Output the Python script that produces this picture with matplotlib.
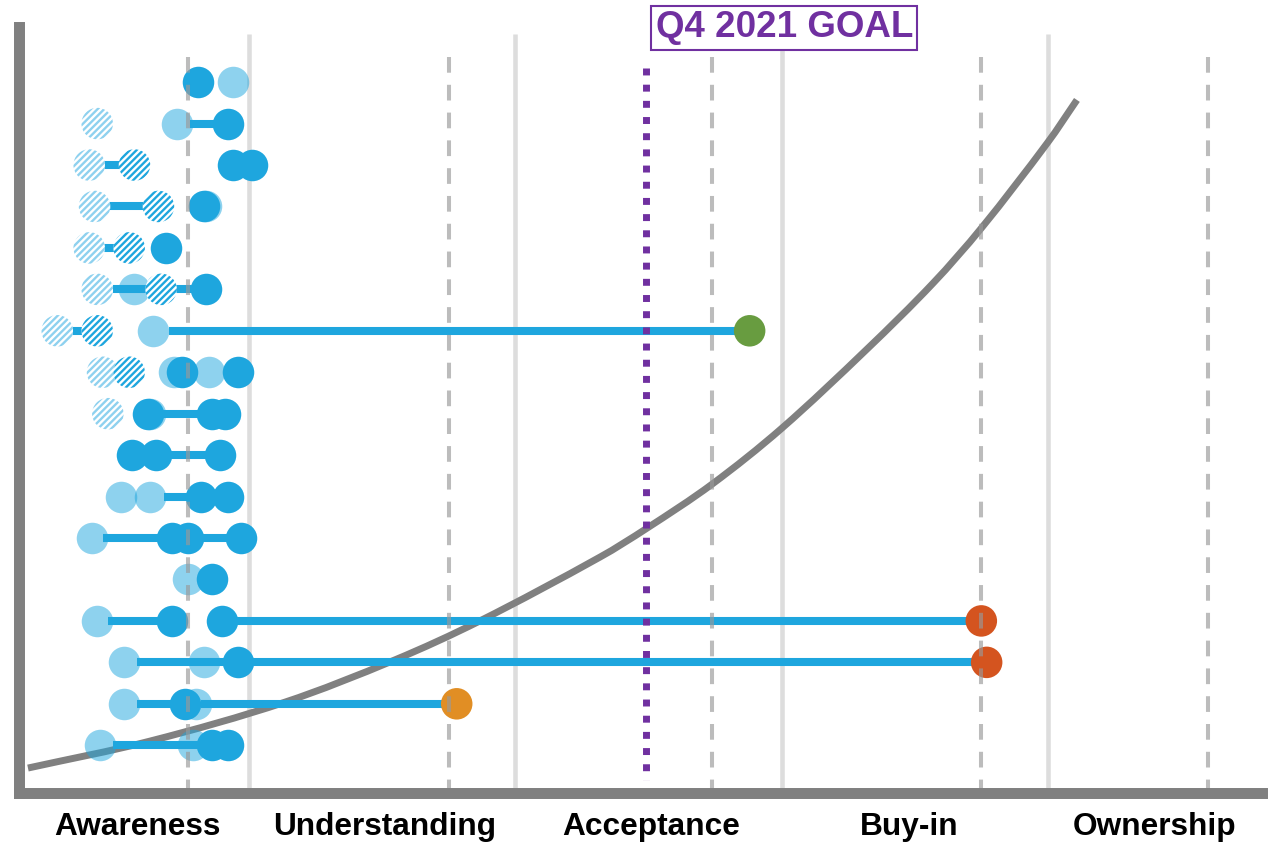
import matplotlib.pyplot as plt
from matplotlib.path import Path
from matplotlib.patches import PathPatch

plt.rcParams['font.family'] = ['Liberation Sans', 'DejaVu Sans']
plt.rcParams['hatch.linewidth'] = 1.7

BLUE = '#1ea6de'
LIGHT = '#8ed1ef'
GRAY = '#808080'
PURPLE = '#7030a0'

# x axis: one unit per stage, y axis: one row per team (0 = top)
stages = ['Awareness', 'Understanding', 'Acceptance', 'Buy-in', 'Ownership']
stage_x = [0.58, 1.51, 2.51, 3.48, 4.40]
stage_edges = [1.0, 2.0, 3.0, 4.0]
stage_mids = [0.77, 1.75, 2.74, 3.75, 4.60]
goal_x = 2.49

# (row, x)
light = [(0, 0.94), (1, 0.73), (3, 0.84), (5, 0.57), (6, 0.64), (7, 0.72), (7, 0.85),
         (8, 0.63), (10, 0.52), (10, 0.63), (11, 0.41), (12, 0.77), (13, 0.43),
         (14, 0.53), (14, 0.83), (15, 0.53), (15, 0.80), (16, 0.44), (16, 0.79)]
dark = [(0, 0.81), (1, 0.92), (2, 0.94), (2, 1.01), (3, 0.83), (4, 0.69), (5, 0.84),
        (7, 0.75), (7, 0.96), (8, 0.62), (8, 0.86), (8, 0.91), (9, 0.56), (9, 0.65),
        (9, 0.89), (10, 0.82), (10, 0.92), (11, 0.71), (11, 0.77), (11, 0.97),
        (12, 0.86), (13, 0.71), (13, 0.90), (14, 0.96), (15, 0.76), (16, 0.86), (16, 0.92)]
hatch_light = [(1, 0.43), (2, 0.40), (3, 0.42), (4, 0.40), (5, 0.43), (6, 0.28),
               (7, 0.45), (8, 0.47)]
hatch_dark = [(2, 0.57), (3, 0.66), (4, 0.55), (5, 0.67), (6, 0.43), (7, 0.55)]
targets = [(6, 2.88, '#689c40'), (13, 3.75, '#d4541f'), (14, 3.77, '#d4541f'),
           (15, 1.78, '#e18e24')]

# (row, x_start, x_end)
links = [(1, 0.78, 0.92), (2, 0.40, 0.57), (3, 0.42, 0.66), (4, 0.40, 0.55),
         (5, 0.49, 0.84), (6, 0.28, 0.43), (6, 0.70, 2.88), (8, 0.62, 0.91),
         (9, 0.65, 0.89), (10, 0.68, 0.82), (11, 0.45, 0.97), (13, 0.47, 0.71),
         (13, 0.90, 3.75), (14, 0.58, 3.77), (15, 0.58, 0.76), (15, 0.82, 1.78),
         (16, 0.49, 0.86)]

# adoption curve
curve_x = [0.170, 0.628, 1.135, 1.548, 1.867, 2.318, 2.495, 2.739, 3.001, 3.321,
           3.569, 3.753, 4.000, 4.109]
curve_y = [16.55, 15.90, 14.96, 13.94, 13.00, 11.46, 10.76, 9.70, 8.35, 6.44,
           4.85, 3.50, 1.45, 0.43]


def smooth_path(xs, ys):
    # hermite segments through the read points, tangents scaled by x spacing
    n = len(xs)
    verts = [(xs[0], ys[0])]
    codes = [Path.MOVETO]
    for i in range(n - 1):
        a = max(i - 1, 0)
        b = min(i + 2, n - 1)
        h = xs[i + 1] - xs[i]
        m1 = (ys[i + 1] - ys[a]) / (xs[i + 1] - xs[a])
        m2 = (ys[b] - ys[i]) / (xs[b] - xs[i])
        verts += [(xs[i] + h / 3, ys[i] + m1 * h / 3),
                  (xs[i + 1] - h / 3, ys[i + 1] - m2 * h / 3),
                  (xs[i + 1], ys[i + 1])]
        codes += [Path.CURVE4] * 3
    return Path(verts, codes)


fig = plt.figure(figsize=(12.73, 8.51), dpi=100)
ax = fig.add_axes([0.01477, 0.06874, 0.97659, 0.89953])
ax.set_xlim(0.1356, 4.804)
ax.set_ylim(17.14, -1.33)

ax.vlines(stage_edges, -1.15, 17.14, color='#dddddd', lw=3.3, zorder=1)
ax.add_patch(PathPatch(smooth_path(curve_x, curve_y), fill=False, ec=GRAY, lw=5,
                       capstyle='butt', zorder=2))

for r, x0, x1 in links:
    ax.plot([x0, x1], [r, r], color=BLUE, lw=5.8, solid_capstyle='butt', zorder=3)

S = 515
r, x = zip(*light)
ax.scatter(x, r, s=S, color=BLUE, alpha=0.5, linewidths=0, zorder=4)
r, x = zip(*dark)
ax.scatter(x, r, s=S, color=BLUE, linewidths=0, zorder=4)
r, x = zip(*hatch_light)
ax.scatter(x, r, s=S, facecolor='white', edgecolor=LIGHT, hatch='/////', linewidths=0, zorder=4)
r, x = zip(*hatch_dark)
ax.scatter(x, r, s=S, facecolor='white', edgecolor=BLUE, hatch='/////', linewidths=0, zorder=4)
r, x, c = zip(*targets)
ax.scatter(x, r, s=S, color=c, linewidths=0, zorder=4)

ax.vlines(stage_mids, -0.60, 17.14, color='#999999', alpha=0.65, lw=2.9,
          linestyles=(0, (3.9, 3.0)), zorder=5)
ax.vlines([goal_x], -0.34, 16.84, color=PURPLE, lw=5, linestyles=(0, (1, 1.33)), zorder=6)

ax.text(3.01, -1.31, 'Q4 2021 GOAL', color=PURPLE, fontsize=26.5, fontweight='bold',
        ha='center', va='center', zorder=7,
        bbox=dict(boxstyle='square,pad=0.12', fc='white', ec=PURPLE, lw=1.5))

for side in ['top', 'right']:
    ax.spines[side].set_visible(False)
for side in ['left', 'bottom']:
    ax.spines[side].set_color(GRAY)
    ax.spines[side].set_linewidth(7.9)
    ax.spines[side].set_capstyle('projecting')
    ax.spines[side].set_zorder(10)

ax.set_yticks([])
ax.set_xticks(stage_x, labels=stages, fontsize=22.8, fontweight='bold')
ax.tick_params(axis='x', length=0, pad=14)

fig.savefig('out.png', dpi=100)
